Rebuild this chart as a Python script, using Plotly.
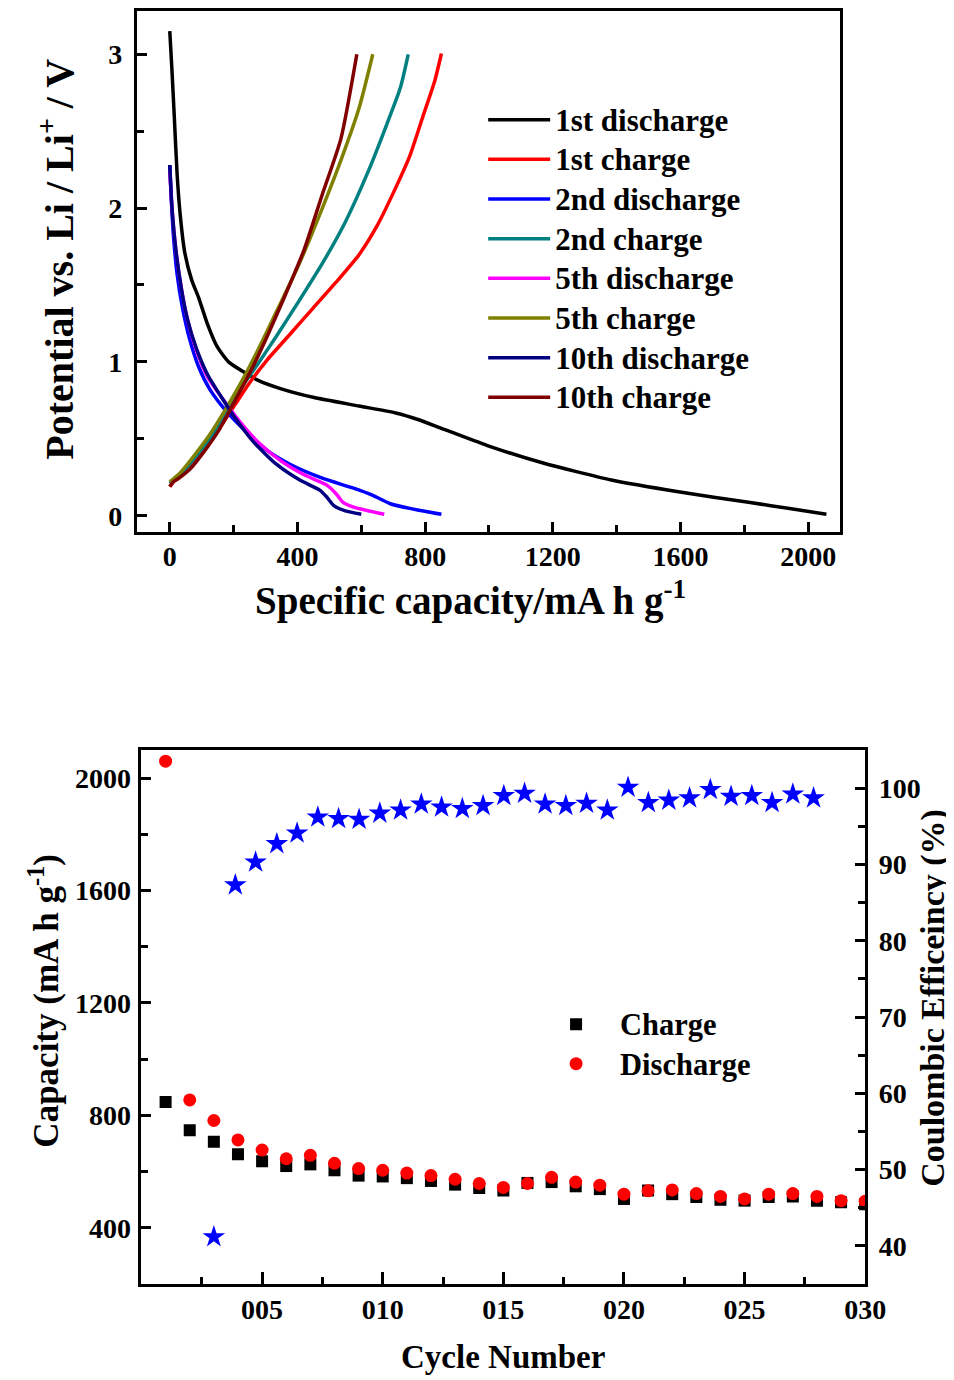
import plotly.graph_objects as go

# ---- top panel: voltage profiles (capacity mA h g-1, potential V) ----
d1_cap = [0, 7, 14, 23, 33, 47, 69, 90, 119, 148, 184, 227, 277, 349, 449, 593, 708, 780, 851, 995, 1167, 1383, 1598, 1813, 1957, 2057]
d1_v = [3.15, 2.89, 2.60, 2.22, 1.95, 1.71, 1.53, 1.42, 1.24, 1.10, 1.00, 0.94, 0.88, 0.825, 0.77, 0.713, 0.668, 0.624, 0.568, 0.456, 0.344, 0.232, 0.154, 0.087, 0.042, 0.009]

c1_cap = [0, 19, 62, 112, 162, 205, 248, 306, 378, 449, 521, 593, 650, 708, 751, 794, 830, 851]
c1_v = [0.188, 0.244, 0.333, 0.456, 0.590, 0.724, 0.858, 1.015, 1.183, 1.350, 1.518, 1.697, 1.887, 2.133, 2.334, 2.602, 2.826, 3.005]

d2_cap = [0, 4, 11.5, 23, 40, 62, 90, 126, 177, 234, 306, 378, 478, 578, 636, 693, 765, 851]
d2_v = [2.28, 2.09, 1.82, 1.57, 1.35, 1.15, 0.97, 0.82, 0.68, 0.557, 0.423, 0.333, 0.244, 0.177, 0.132, 0.076, 0.042, 0.009]

c2_cap = [0, 33, 76, 126, 177, 227, 277, 335, 406, 478, 550, 622, 679, 722, 747]
c2_v = [0.21, 0.27, 0.37, 0.50, 0.66, 0.84, 0.99, 1.17, 1.40, 1.64, 1.91, 2.24, 2.54, 2.78, 3.00]

d5_cap = [0, 7, 19, 36, 55, 83, 119, 169, 220, 277, 349, 421, 492, 521, 543, 579, 672]
d5_v = [2.24, 2.00, 1.73, 1.48, 1.28, 1.08, 0.90, 0.75, 0.61, 0.478, 0.355, 0.266, 0.199, 0.143, 0.087, 0.054, 0.009]

c5_cap = [0, 33, 76, 126, 177, 227, 277, 335, 406, 478, 536, 593, 636]
c5_v = [0.22, 0.28, 0.39, 0.53, 0.70, 0.88, 1.08, 1.33, 1.64, 2.00, 2.31, 2.65, 3.00]

d10_cap = [0, 7, 19, 36, 55, 83, 119, 162, 205, 263, 335, 406, 471, 492, 514, 550, 600]
d10_v = [2.28, 2.00, 1.73, 1.48, 1.28, 1.09, 0.915, 0.77, 0.635, 0.478, 0.333, 0.233, 0.165, 0.121, 0.065, 0.031, 0.009]

c10_cap = [0, 11.5, 26, 62, 105, 155, 205, 256, 306, 363, 421, 478, 536, 586]
c10_v = [0.19, 0.22, 0.24, 0.30, 0.41, 0.56, 0.75, 0.95, 1.17, 1.44, 1.73, 2.09, 2.45, 3.00]

curves = [
    ("1st discharge", d1_cap, d1_v, "#000000"),
    ("1st charge", c1_cap, c1_v, "#FF0000"),
    ("2nd discharge", d2_cap, d2_v, "#0000FF"),
    ("2nd charge", c2_cap, c2_v, "#008080"),
    ("5th discharge", d5_cap, d5_v, "#FF00FF"),
    ("5th charge", c5_cap, c5_v, "#808000"),
    ("10th discharge", d10_cap, d10_v, "#000080"),
    ("10th charge", c10_cap, c10_v, "#800000"),
]

# ---- bottom panel: cycling ----
cycles = list(range(1, 31))
charge_cap = [848, 747, 706, 662, 637, 620, 626, 605, 586, 583, 577, 567, 554, 542, 533,
              560, 563, 548, 538, 503, 533, 520, 510, 500, 497, 510, 512, 497, 491, 484]
discharge_cap = [2060, 855, 782, 713, 677, 646, 658, 630, 611, 605, 595, 586, 573, 558, 544,
                 558, 580, 563, 552, 520, 532, 535, 522, 512, 503, 520, 522, 512, 497, 495]
eff_x = [3.0, 3.89, 4.73, 5.61, 6.45, 7.31, 8.17, 9.02, 9.88, 10.74, 11.60, 12.44, 13.30, 14.16, 15.02,
         15.88, 16.73, 17.59, 18.45, 19.31, 20.17, 21.01, 21.86, 22.72, 23.58, 24.44, 25.30, 26.14, 27.00, 27.86]
eff = [41.2, 87.3, 90.3, 92.7, 94.1, 96.2, 96.0, 95.9, 96.7, 97.1, 97.9, 97.5, 97.3, 97.7, 99.0,
       99.3, 97.9, 97.7, 98.0, 97.1, 100.1, 98.1, 98.4, 98.7, 99.8, 98.9, 99.0, 98.1, 99.2, 98.7]
cyc_ticks = [5, 10, 15, 20, 25, 30]
cyc_labels = ["005", "010", "015", "020", "025", "030"]

FONT = "Liberation Serif"
OFF = 8          # page body margin
SX = 0.98        # horizontal squeeze seen in the snapshot
W, H = 954, 1380 - OFF


def px(x):
    return min(1.0, (x / SX - OFF) / W)


def py(y):
    return min(1.0, 1 - (y - OFF) / H)


def big(s, size):
    # legend rows keep the legend font's line height, the label itself is drawn larger
    return f'<span style="font-size:{size}px">{s}</span>'


fig = go.Figure()
for name, xs, ys, col in curves:
    fig.add_trace(go.Scatter(x=xs, y=ys, mode="lines", name=big(name, 31),
                             line=dict(color=col, width=3.5, shape="spline", smoothing=0.6),
                             xaxis="x", yaxis="y", legend="legend"))

fig.add_trace(go.Scatter(x=cycles, y=charge_cap, mode="markers", name=big("Charge", 30.5),
                         marker=dict(symbol="square", color="black", size=12),
                         xaxis="x2", yaxis="y2", legend="legend2"))
fig.add_trace(go.Scatter(x=cycles, y=discharge_cap, mode="markers", name=big("Discharge", 30.5),
                         marker=dict(symbol="circle", color="#FF0000", size=13),
                         xaxis="x2", yaxis="y2", legend="legend2"))
fig.add_trace(go.Scatter(x=eff_x, y=eff, mode="markers", name="Efficiency", showlegend=False,
                         marker=dict(symbol="star", color="#0000FF", size=17, line=dict(width=0)),
                         xaxis="x2", yaxis="y3"))

tickf = dict(family=FONT, size=28, color="black", weight="bold")
ax = dict(showline=True, linewidth=3, linecolor="black", ticks="inside", tickwidth=3, tickcolor="black",
          ticklen=10, showgrid=False, zeroline=False, tickfont=tickf)


def minor(step):
    return dict(dtick=step, tick0=0, ticks="inside", ticklen=7, tickwidth=3, tickcolor="black")


fig.update_layout(
    width=W, height=H, autosize=False,
    margin=dict(l=0, r=0, t=0, b=0),
    paper_bgcolor="white", plot_bgcolor="white",
    xaxis=dict(ax, domain=[px(137), px(842)], anchor="y", range=[-103, 2101],
               tickvals=[0, 400, 800, 1200, 1600, 2000], minor=minor(200), mirror=True, ticklabelstandoff=-2),
    yaxis=dict(ax, domain=[py(530.3), py(9.5)], anchor="x", range=[-0.103, 3.278],
               tickvals=[0, 1, 2, 3], minor=minor(0.5), mirror=True, ticklabelstandoff=6),
    xaxis2=dict(ax, domain=[px(141.6), px(866.8)], anchor="y2", range=[0, 30], tickvals=cyc_ticks, ticktext=cyc_labels,
                ticklen=12, minor=minor(2.5), mirror=True, ticklabelstandoff=-2),
    yaxis2=dict(ax, domain=[py(1284), py(749)], anchor="x2", range=[200, 2100],
                tickvals=[400, 800, 1200, 1600, 2000], minor=minor(200), ticklabelstandoff=2),
    yaxis3=dict(ax, overlaying="y2", side="right", anchor="x2", range=[35, 105],
                tickvals=[40, 50, 60, 70, 80, 90, 100], minor=minor(5), ticklabelstandoff=5),
    legend=dict(x=px(484), y=py(93), xanchor="left", yanchor="top", bgcolor="rgba(0,0,0,0)",
                font=dict(family=FONT, size=28.2, color="black", weight="bold"), itemwidth=62, tracegroupgap=0),
    legend2=dict(x=px(533), y=py(999), xanchor="left", yanchor="top", bgcolor="rgba(0,0,0,0)",
                 font=dict(family=FONT, size=28, color="black", weight="bold"), itemwidth=78),
    showlegend=True,
)

tf = dict(family=FONT, color="black", weight="bold")
fig.add_annotation(text="Specific capacity/mA h g<sup>-1</sup>", x=px(471), y=py(597), xref="paper", yref="paper",
                   showarrow=False, xanchor="center", yanchor="middle", font=dict(tf, size=39))
fig.add_annotation(text="Potential vs. Li / Li<sup>+</sup> / V", x=px(57), y=py(258), xref="paper", yref="paper",
                   showarrow=False, textangle=-90, xanchor="center", yanchor="middle", font=dict(tf, size=40))
fig.add_annotation(text="Cycle Number", x=px(504), y=py(1357), xref="paper", yref="paper",
                   showarrow=False, xanchor="center", yanchor="middle", font=dict(tf, size=33))
fig.add_annotation(text="Capacity (mA h g<sup>-1</sup>)", x=px(44), y=py(1000), xref="paper", yref="paper",
                   showarrow=False, textangle=-90, xanchor="center", yanchor="middle", font=dict(tf, size=35))
fig.add_annotation(text="Coulombic Efficeincy (%)", x=px(934), y=py(997), xref="paper", yref="paper",
                   showarrow=False, textangle=-90, xanchor="center", yanchor="middle", font=dict(tf, size=34))

fig.write_html("out.html")
